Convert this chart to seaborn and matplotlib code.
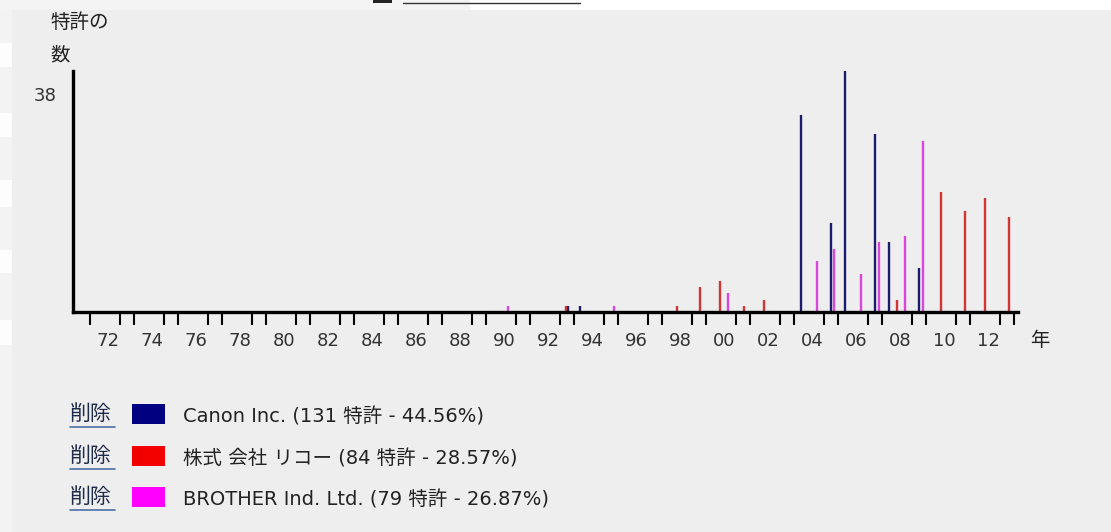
import matplotlib
matplotlib.use('Agg')
import matplotlib.pyplot as plt
import matplotlib.patches as mpatches
import matplotlib.transforms as mtransforms
from matplotlib.lines import Line2D
import seaborn as sns
import pandas as pd

# patent counts per filing date (fractional year)
canon_year = [1992.91, 1993.45, 2003.49, 2004.85, 2005.50, 2006.85, 2007.49, 2008.85]
canon_count = [1, 1, 31, 14, 38, 28, 11, 7]

ricoh_year = [1992.82, 1997.85, 1998.91, 1999.82, 2000.92, 2001.83, 2007.85,
              2009.86, 2010.95, 2011.85, 2012.95]
ricoh_count = [1, 1, 4, 5, 1, 2, 2, 19, 16, 18, 15]

brother_year = [1990.20, 1995.01, 2000.20, 2004.21, 2005.01, 2006.21, 2007.03,
                2008.21, 2009.06]
brother_count = [1, 1, 3, 8, 10, 6, 11, 12, 27]

companies = ['Canon Inc.', '株式 会社 リコー', 'BROTHER Ind. Ltd.']
legend_labels = ['Canon Inc. (131 特許 - 44.56%)',
                 '株式 会社 リコー (84 特許 - 28.57%)',
                 'BROTHER Ind. Ltd. (79 特許 - 26.87%)']
year_labels = list(range(1972, 2013, 2))
y_max = 38

bar_colors = {'Canon Inc.': '#1c1c6e', '株式 会社 リコー': '#d23535', 'BROTHER Ind. Ltd.': '#dc45dc'}
key_colors = ['#000080', '#f20000', '#ff00ff']

df = pd.concat([
    pd.DataFrame({'year': canon_year, 'count': canon_count, 'company': companies[0]}),
    pd.DataFrame({'year': ricoh_year, 'count': ricoh_count, 'company': companies[1]}),
    pd.DataFrame({'year': brother_year, 'count': brother_count, 'company': companies[2]}),
])

sns.set_theme(style='white')
plt.rcParams['font.family'] = ['DejaVu Sans', 'Noto Sans CJK JP']

W, H = 1111, 532
fig = plt.figure(figsize=(W / 100, H / 100), dpi=100, facecolor='white')

def fx(px):
  return px / W

def fy(py):
  return 1 - py / H

def add_rect(x0, y0, x1, y1, color, z):
  # rectangle given in pixel coords (top-left origin)
  fig.patches.append(mpatches.Rectangle((fx(x0), fy(y1)), fx(x1 - x0), (y1 - y0) / H,
                                        transform=fig.transFigure, facecolor=color,
                                        edgecolor='none', zorder=z))

# page background pieces
add_rect(12, 10, W, H, '#eeeeee', -3)
add_rect(0, 0, 470, 10, '#f4f4f4', -3)
add_rect(0, 10, 12, H, '#f3f3f3', -3)
for top, bot in [(43, 67), (113, 137), (180, 207), (250, 273), (320, 345)]:
  add_rect(0, top, 12, bot, '#fdfdfd', -2)
add_rect(373, 0, 392, 3, '#222222', -2)
fig.add_artist(Line2D([fx(403), fx(580)], [fy(3), fy(3)], color='#333333', lw=1))

# plot area
ax = fig.add_axes([fx(73), fy(312.3), fx(1018 - 73), (312.3 - 71) / H])
ax.set_facecolor('none')
for company, grp in df.groupby('company', sort=False):
  ax.vlines(grp['year'], 0, grp['count'], color=bar_colors[company], lw=1.7, zorder=3)

ax.set_xlim(1970.41, 2013.36)
ax.set_ylim(0, y_max)
for side in ['top', 'right']:
  ax.spines[side].set_visible(False)
for side in ['left', 'bottom']:
  ax.spines[side].set_linewidth(2.4)
  ax.spines[side].set_color('black')
  ax.spines[side].set_zorder(4)

ax.set_xticks(year_labels)
ax.set_xticklabels(['{:02d}'.format(y % 100) for y in year_labels])
minor = [1971.18] + [v for y in year_labels for v in (y + 0.545, y + 1.18) if v < 2013.2]
ax.set_xticks(minor, minor=True)
ax.tick_params(axis='x', which='major', length=0, pad=14, labelsize=13, labelcolor='#333333')
ax.tick_params(axis='x', which='minor', length=9, width=1.5, color='black', direction='out', bottom=True)

ax.set_yticks([y_max])
ax.set_yticklabels([str(y_max)])
ax.tick_params(axis='y', length=0, pad=12, labelsize=13, labelcolor='#333333')
shift = mtransforms.ScaledTranslation(0, -23 / 100, fig.dpi_scale_trans)
for lab in ax.get_yticklabels():
  lab.set_transform(lab.get_transform() + shift)

fig.text(fx(50), fy(22), '特許の', fontsize=14, ha='left', va='center', color='#222222')
fig.text(fx(50), fy(55), '数', fontsize=14, ha='left', va='center', color='#222222')
fig.text(fx(1030), fy(340), '年', fontsize=14, ha='left', va='center', color='#222222')

# legend block
rows = [417, 459, 500]
for label, col, ry in zip(legend_labels, key_colors, rows):
  fig.text(fx(70), fy(ry - 3), '削除', fontsize=15, ha='left', va='center', color='#1e2a4a')
  fig.add_artist(Line2D([fx(70), fx(115)], [fy(ry + 10), fy(ry + 10)], color='#4a6fa5', lw=1.2))
  add_rect(132, ry - 13, 165, ry + 7, col, 2)
  fig.text(fx(183), fy(ry), label, fontsize=14, ha='left', va='center', color='#222222')

fig.savefig('out.png', dpi=100, facecolor=fig.get_facecolor())
